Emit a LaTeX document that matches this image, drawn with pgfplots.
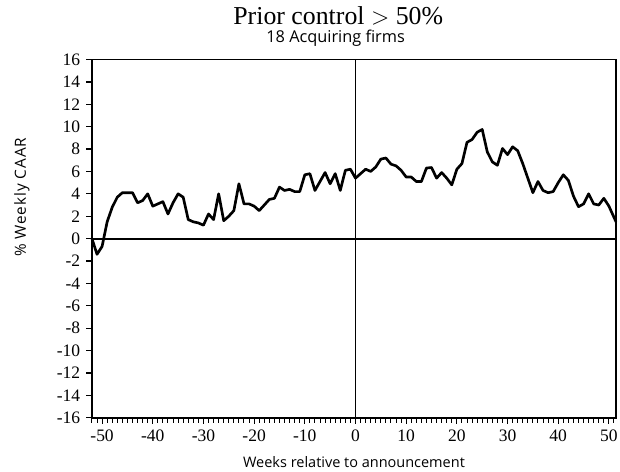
\documentclass[border=0pt]{standalone}
\usepackage{pgfplots}
\pgfplotsset{compat=1.18}
\usepackage{fontspec}
\setmainfont{Liberation Serif}
\newfontfamily\labelfont{Open Sans}

\pgfplotstableread{
w v
-52 0
-51 -1.4
-50 -0.7
-49 1.5
-48 2.8
-47 3.7
-46 4.1
-45 4.1
-44 4.1
-43 3.2
-42 3.4
-41 4.0
-40 2.9
-39 3.1
-38 3.3
-37 2.2
-36 3.2
-35 4.0
-34 3.7
-33 1.7
-32 1.5
-31 1.4
-30 1.2
-29 2.2
-28 1.7
-27 4.0
-26 1.6
-25 2.0
-24 2.5
-23 4.9
-22 3.1
-21 3.1
-20 2.9
-19 2.5
-18 3.0
-17 3.5
-16 3.6
-15 4.6
-14 4.3
-13 4.4
-12 4.2
-11 4.2
-10 5.7
-9 5.8
-8 4.3
-7 5.1
-6 5.9
-5 4.9
-4 5.8
-3 4.3
-2 6.1
-1 6.2
0 5.4
1 5.8
2 6.2
3 6.0
4 6.4
5 7.1
6 7.2
7 6.65
8 6.5
9 6.1
10 5.5
11 5.5
12 5.1
13 5.1
14 6.3
15 6.35
16 5.4
17 5.9
18 5.4
19 4.8
20 6.2
21 6.7
22 8.6
23 8.85
24 9.5
25 9.75
26 7.75
27 6.85
28 6.55
29 8.05
30 7.5
31 8.2
32 7.85
33 6.7
34 5.4
35 4.1
36 5.1
37 4.3
38 4.1
39 4.2
40 5.0
41 5.7
42 5.2
43 3.8
44 2.85
45 3.1
46 4.0
47 3.1
48 3.0
49 3.6
50 2.9
51.4 1.5
}\caar

\begin{document}
\begin{tikzpicture}
\begin{axis}[
    scale only axis, clip=false,
    width=314.6pt, height=215.1pt,
    xmin=-52, xmax=51.4,
    ymin=-16, ymax=16,
    axis line style={line width=1.1pt},
    xtick={-50,-40,...,50},
    xminorticks=true,
    minor xtick={-52,-51,...,51},
    ytick={-16,-14,...,16},
    tick align=outside,
    xtick pos=bottom, ytick pos=left,
    major tick length=3.5pt, minor tick length=3pt,
    x tick style={line width=0.6pt, black},
    minor x tick style={line width=0.6pt, black},
    y tick style={line width=0.8pt, black},
    tick label style={font=\fontsize{10.5}{11}\selectfont},
    /pgf/number format/assume math mode=true,
    xlabel={\labelfont Weeks relative to announcement},
    xlabel style={font=\fontsize{8.7}{10}\selectfont, at={(axis description cs:0.5,-0.125)}, anchor=center},
    ylabel={\labelfont\addfontfeature{LetterSpace=6}\% Weekly CAAR},
    ylabel style={font=\fontsize{9.2}{10}\selectfont, at={(axis description cs:-0.1335,0.615)}, anchor=center},
]
\addplot[black, line width=1.6pt, line join=round] table[x=w, y=v] {\caar};
\draw[line width=1.1pt] (axis cs:0,-16) -- (axis cs:0,16);
\draw[line width=1.1pt] (axis cs:-52,0) -- (axis cs:51.4,0);
\node[font=\fontsize{15.5}{17}\selectfont] at (axis description cs:0.47,1) [yshift=26pt] {Prior control $>$ 50\%};
\node[font=\labelfont\fontsize{9.8}{11}\selectfont] at (axis description cs:0.465,1) [yshift=12.5pt] {18 Acquiring firms};
\coordinate (bl) at (rel axis cs:0,0);
\end{axis}
\pgfresetboundingbox
\path (bl) ++(-55.2pt,-32.4pt) rectangle ++(372.2pt,283.2pt);
\end{tikzpicture}
\end{document}
